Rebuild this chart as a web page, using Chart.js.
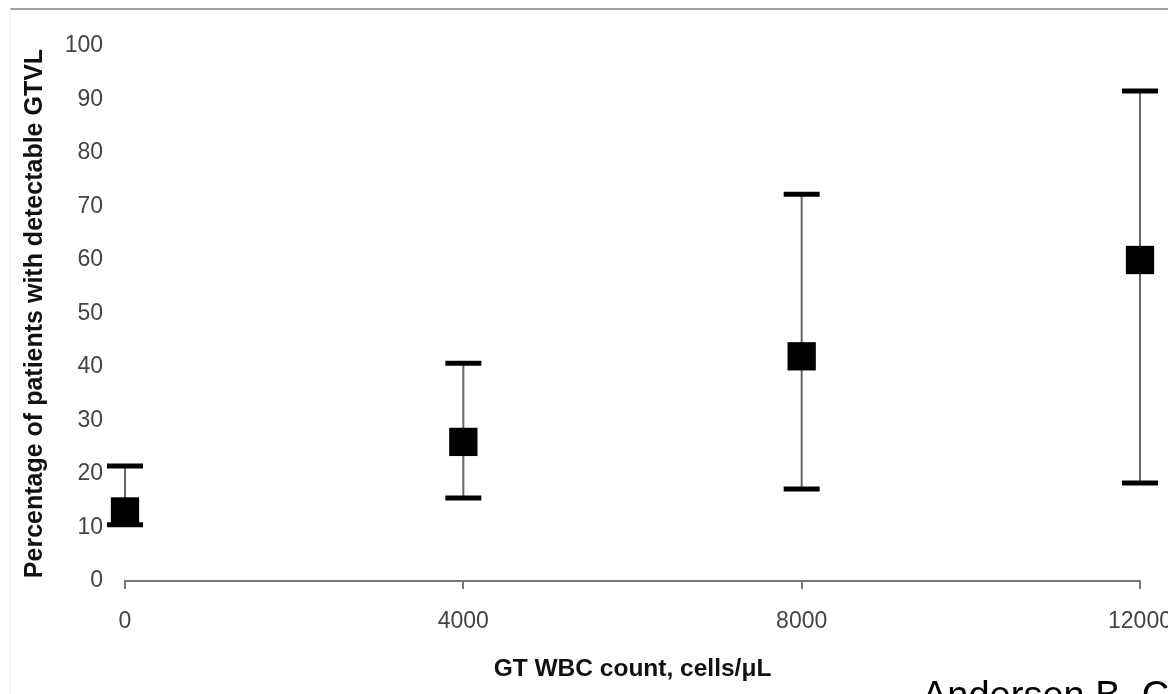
<!DOCTYPE html>
<html>
<head>
<meta charset="utf-8">
<script src="https://cdn.jsdelivr.net/npm/chart.js@4"></script>
<style>
  html, body { margin: 0; padding: 0; background: #fff; overflow: hidden; }
  #wrap { position: relative; width: 1200px; height: 694px; }
  #frame { position: absolute; left: 10px; top: 8px; width: 1200px; height: 700px;
           border-top: 2px solid #a0a0a0; border-left: 1px solid #eeeeee; }
  canvas { position: absolute; left: 0; top: 0; }
</style>
</head>
<body>
<div id="wrap">
  <div id="frame"></div>
  <canvas id="chart" width="1200" height="694"></canvas>
</div>
<script>
// --- Data ---
const wbcCounts = [0, 4000, 8000, 12000];          // GT WBC count, cells/µL
const pctDetectable = [13, 26, 42, 60];            // % with detectable GTVL
const ciLower = [10.5, 15.5, 17.2, 18.3];
const ciUpper = [21.5, 40.7, 72.3, 91.6];
const xTicks = [0, 4000, 8000, 12000];
const yTicks = [0, 10, 20, 30, 40, 50, 60, 70, 80, 90, 100];

const tickFont = { family: "'Liberation Sans', Arial, sans-serif", size: 23 };
const titleFontFamily = "'Liberation Sans', Arial, sans-serif";

// Error bars drawn through the chart scales
const errorBars = {
    id: 'errorBars',
    beforeDatasetsDraw(chart) {
        const { ctx, scales: { x, y } } = chart;
        ctx.save();
        wbcCounts.forEach((v, i) => {
            const px = x.getPixelForValue(v);
            const top = y.getPixelForValue(ciUpper[i]);
            const bot = y.getPixelForValue(ciLower[i]);
            ctx.strokeStyle = '#666';
            ctx.lineWidth = 2;
            ctx.beginPath();
            ctx.moveTo(px, top);
            ctx.lineTo(px, bot);
            ctx.stroke();
            ctx.strokeStyle = '#000';
            ctx.lineWidth = 5;
            ctx.beginPath();
            ctx.moveTo(px - 18, top); ctx.lineTo(px + 18, top);
            ctx.moveTo(px - 18, bot); ctx.lineTo(px + 18, bot);
            ctx.stroke();
        });
        ctx.restore();
    }
};

// Source caption at the bottom right (cut off, as in the figure)
const caption = {
    id: 'caption',
    afterDraw(chart) {
        const { ctx } = chart;
        ctx.save();
        ctx.fillStyle = '#000';
        ctx.font = "38px 'Liberation Sans', Arial, sans-serif";
        ctx.textBaseline = 'alphabetic';
        ctx.textAlign = 'left';
        ctx.fillText('Andersen B, C', 922, 708);
        ctx.restore();
    }
};

new Chart(document.getElementById('chart'), {
    type: 'scatter',
    data: {
        datasets: [{
            data: wbcCounts.map((v, i) => ({ x: v, y: pctDetectable[i] })),
            pointStyle: 'rect',
            pointRadius: 20,
            pointHoverRadius: 20,
            backgroundColor: '#000',
            borderColor: '#000',
            borderWidth: 0,
            clip: false
        }]
    },
    options: {
        responsive: false,
        animation: false,
        layout: { padding: { left: 0, right: 60, top: 46, bottom: 0 } },
        plugins: { legend: { display: false }, tooltip: { enabled: false } },
        scales: {
            x: {
                type: 'linear',
                min: 0, max: 12000,
                afterBuildTicks: s => { s.ticks = xTicks.map(v => ({ value: v })); },
                afterFit: s => { s.height = 113; },
                ticks: { color: '#444', font: tickFont, padding: 19, maxRotation: 0, callback: v => String(v) },
                grid: { display: true, drawOnChartArea: false, drawTicks: true, tickLength: 8, color: '#777', lineWidth: 2 },
                border: { display: true, color: '#777', width: 2 },
                title: {
                    display: true,
                    text: 'GT WBC count, cells/\u03bcL',
                    color: '#111',
                    font: { family: titleFontFamily, size: 24.5, weight: 'bold' },
                    padding: { top: 0, bottom: 10 }
                }
            },
            y: {
                min: 0, max: 100,
                afterBuildTicks: s => { s.ticks = yTicks.map(v => ({ value: v })); },
                afterFit: s => { s.width = 125; },
                ticks: { color: '#444', font: tickFont, padding: 22, callback: v => String(v) },
                grid: { display: false, drawTicks: false },
                border: { display: false },
                title: {
                    display: true,
                    text: 'Percentage of patients with detectable GTVL',
                    color: '#111',
                    font: { family: titleFontFamily, size: 25, weight: 'bold' },
                    padding: { top: 20, bottom: 0 }
                }
            }
        }
    },
    plugins: [errorBars, caption]
});
</script>
</body>
</html>
